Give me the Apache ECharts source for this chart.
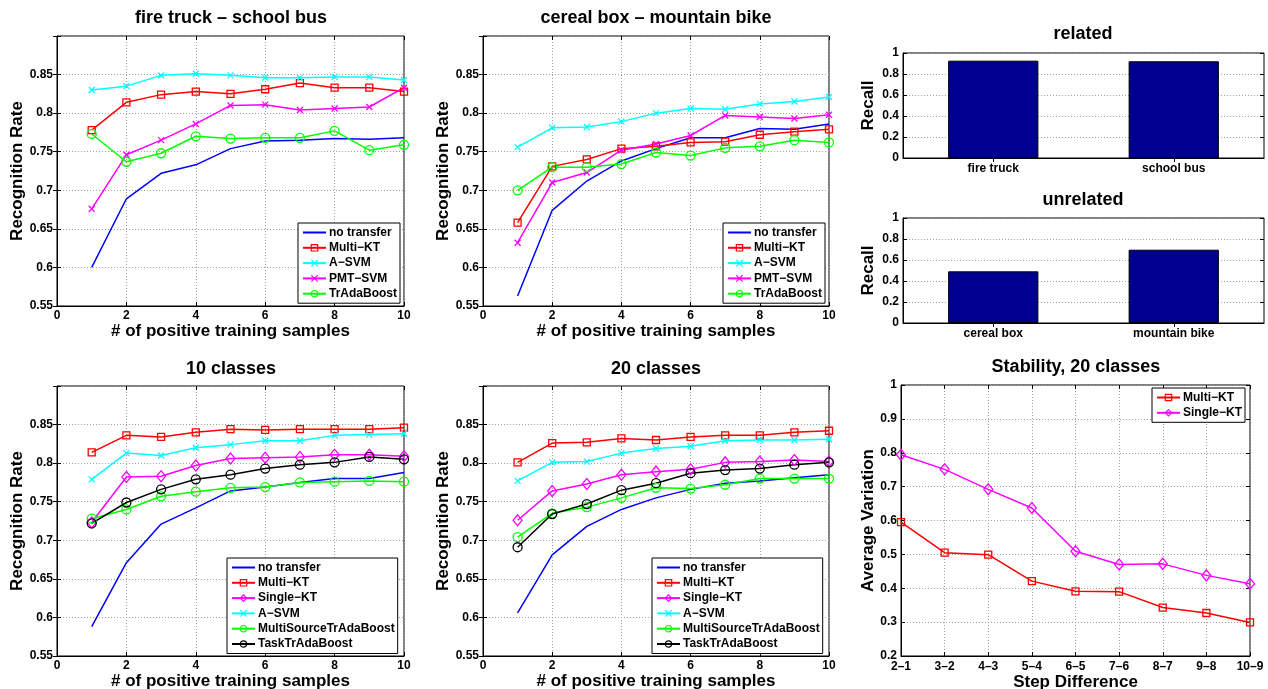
<!DOCTYPE html>
<html>
<head>
<meta charset="utf-8">
<script src="https://cdn.jsdelivr.net/npm/echarts@6/dist/echarts.min.js"></script>
<style>
  html, body { margin: 0; padding: 0; background: #fff; }
  #chart { width: 1268px; height: 689px; }
</style>
</head>
<body>
<div id="chart"></div>
<script>
// ---------- data ----------
const sampleCounts = [1, 2, 3, 4, 5, 6, 7, 8, 9, 10];

// fire truck - school bus
const ftNoTransfer = [0.600, 0.689, 0.722, 0.733, 0.754, 0.764, 0.765, 0.767, 0.766, 0.768];
const ftMultiKT    = [0.778, 0.814, 0.824, 0.828, 0.825, 0.831, 0.839, 0.833, 0.833, 0.828];
const ftASVM       = [0.830, 0.835, 0.849, 0.851, 0.849, 0.846, 0.846, 0.847, 0.847, 0.843];
const ftPMTSVM     = [0.676, 0.746, 0.765, 0.786, 0.810, 0.811, 0.804, 0.806, 0.808, 0.833];
const ftTrAda      = [0.773, 0.737, 0.748, 0.770, 0.767, 0.768, 0.768, 0.777, 0.752, 0.759];

// cereal box - mountain bike
const cbNoTransfer = [0.563, 0.674, 0.712, 0.738, 0.754, 0.768, 0.768, 0.780, 0.779, 0.786];
const cbMultiKT    = [0.658, 0.731, 0.740, 0.754, 0.757, 0.762, 0.763, 0.772, 0.776, 0.779];
const cbASVM       = [0.756, 0.781, 0.782, 0.789, 0.800, 0.806, 0.805, 0.812, 0.815, 0.821];
const cbPMTSVM     = [0.632, 0.710, 0.723, 0.752, 0.760, 0.771, 0.797, 0.795, 0.793, 0.798];
const cbTrAda      = [0.700, 0.730, 0.730, 0.734, 0.749, 0.745, 0.755, 0.757, 0.765, 0.762];

// 10 classes
const c10NoTransfer = [0.588, 0.671, 0.721, 0.742, 0.764, 0.769, 0.775, 0.780, 0.780, 0.788];
const c10MultiKT    = [0.814, 0.836, 0.834, 0.840, 0.844, 0.843, 0.844, 0.844, 0.844, 0.846];
const c10SingleKT   = [0.723, 0.782, 0.783, 0.797, 0.806, 0.807, 0.808, 0.811, 0.811, 0.809];
const c10ASVM       = [0.779, 0.813, 0.810, 0.820, 0.824, 0.829, 0.829, 0.836, 0.837, 0.838];
const c10MultiTrAda = [0.728, 0.740, 0.757, 0.763, 0.768, 0.769, 0.775, 0.776, 0.777, 0.776];
const c10TaskTrAda  = [0.722, 0.749, 0.766, 0.779, 0.785, 0.793, 0.798, 0.801, 0.808, 0.805];

// 20 classes
const c20NoTransfer = [0.606, 0.681, 0.718, 0.740, 0.755, 0.766, 0.774, 0.777, 0.781, 0.785];
const c20MultiKT    = [0.801, 0.826, 0.827, 0.832, 0.830, 0.834, 0.836, 0.836, 0.840, 0.842];
const c20SingleKT   = [0.726, 0.764, 0.773, 0.785, 0.789, 0.792, 0.801, 0.802, 0.804, 0.802];
const c20ASVM       = [0.777, 0.801, 0.802, 0.813, 0.819, 0.822, 0.829, 0.830, 0.830, 0.831];
const c20MultiTrAda = [0.704, 0.735, 0.743, 0.755, 0.768, 0.767, 0.772, 0.780, 0.780, 0.780];
const c20TaskTrAda  = [0.691, 0.734, 0.747, 0.765, 0.774, 0.787, 0.791, 0.793, 0.798, 0.801];

// recall of source selection
const relatedNames    = ['fire truck', 'school bus'];
const relatedRecall   = [0.927, 0.921];
const unrelatedNames  = ['cereal box', 'mountain bike'];
const unrelatedRecall = [0.492, 0.698];

// stability over consecutive steps, 20 classes
const stepLabels   = ['2–1', '3–2', '4–3', '5–4', '6–5', '7–6', '8–7', '9–8', '10–9'];
const stabMultiKT  = [0.595, 0.505, 0.499, 0.421, 0.391, 0.390, 0.343, 0.327, 0.299];
const stabSingleKT = [0.794, 0.751, 0.692, 0.637, 0.509, 0.470, 0.472, 0.438, 0.413];

// ---------- styling ----------
const FONT = 'Liberation Sans, Arial, Helvetica, sans-serif';
const CROSS = 'path://M0,0L10,10M10,0L0,10';
const METHOD_STYLE = {
  'no transfer':           { color: '#0000ff', symbol: 'none',    size: 0 },
  'Multi-KT':              { color: '#ff0000', symbol: 'rect',    size: 7 },
  'A-SVM':                 { color: '#00ffff', symbol: CROSS,     size: 6 },
  'PMT-SVM':               { color: '#ff00ff', symbol: CROSS,     size: 6 },
  'TrAdaBoost':            { color: '#00ff00', symbol: 'circle',  size: 9 },
  'Single-KT':             { color: '#ff00ff', symbol: 'diamond', size: [9, 11] },
  'MultiSourceTrAdaBoost': { color: '#00ff00', symbol: 'circle',  size: 9 },
  'TaskTrAdaBoost':        { color: '#000000', symbol: 'circle',  size: 9 }
};
const LEGEND_LABEL = { 'A-SVM': 'A−SVM', 'PMT-SVM': 'PMT−SVM', 'Multi-KT': 'Multi−KT', 'Single-KT': 'Single−KT' };

function lineSeries(name, values, axisIdx, xs) {
  const st = METHOD_STYLE[name];
  return {
    type: 'line',
    name: name,
    xAxisIndex: axisIdx,
    yAxisIndex: axisIdx,
    data: xs ? values.map((v, i) => [xs[i], v]) : values.slice(),
    symbol: st.symbol,
    symbolSize: st.size,
    showSymbol: st.symbol !== 'none',
    lineStyle: { color: st.color, width: 1.5 },
    itemStyle: {
      color: 'rgba(0,0,0,0)',
      borderColor: st.symbol === 'none' ? 'rgba(0,0,0,0)' : st.color,
      borderWidth: st.symbol === 'none' ? 0 : 1.3
    },
    emphasis: { disabled: true },
    animation: false
  };
}

const gridBase = { show: true, borderColor: '#000', borderWidth: 1, backgroundColor: '#fff', containLabel: false, outerBoundsMode: 'none' };
const labelText = { color: '#000', fontWeight: 'bold', fontSize: 12, fontFamily: FONT };
const nameText = { color: '#000', fontWeight: 'bold', fontSize: 17, fontFamily: FONT };
const axisLineBlack = { show: true, onZero: false, lineStyle: { color: '#000', width: 1 } };
const tickIn = { show: true, inside: true, length: 4, lineStyle: { color: '#000', width: 1 } };
const dotted = { show: true, lineStyle: { color: '#a0a0a0', width: 1, type: [1, 2] } };

const grids = [
  { left: 57, top: 36, width: 347, height: 270 },      // fire truck - school bus
  { left: 483, top: 36, width: 346, height: 270 },     // cereal box - mountain bike
  { left: 57, top: 386, width: 347, height: 270 },     // 10 classes
  { left: 483, top: 386, width: 346, height: 270 },    // 20 classes
  { left: 903, top: 53, width: 361, height: 105 },     // related
  { left: 903, top: 218, width: 361, height: 105 },    // unrelated
  { left: 901, top: 385, width: 349, height: 271 }     // stability
].map(g => Object.assign({}, gridBase, g));

function sampleXAxis(idx) {
  return {
    type: 'value', gridIndex: idx, min: 0, max: 10, interval: 2,
    axisLine: axisLineBlack, axisTick: tickIn,
    axisLabel: Object.assign({ margin: 4 }, labelText),
    splitLine: dotted,
    name: '# of positive training samples', nameLocation: 'middle', nameGap: 16, nameTextStyle: nameText
  };
}
function rateYAxis(idx) {
  return {
    type: 'value', gridIndex: idx, min: 0.55, max: 0.9, interval: 0.05,
    axisLine: axisLineBlack, axisTick: tickIn,
    axisLabel: Object.assign({ margin: 4, formatter: v => (v > 0.875 ? '' : String(+v.toFixed(2))) }, labelText),
    splitLine: dotted,
    name: 'Recognition Rate', nameLocation: 'middle', nameGap: 31, nameTextStyle: nameText
  };
}
function barXAxis(idx, cats) {
  return {
    type: 'category', gridIndex: idx, data: cats, boundaryGap: true,
    axisLine: axisLineBlack, axisTick: Object.assign({ alignWithLabel: true }, tickIn),
    axisLabel: Object.assign({ margin: 5 }, labelText),
    splitLine: { show: false }
  };
}
function recallYAxis(idx) {
  return {
    type: 'value', gridIndex: idx, min: 0, max: 1, interval: 0.2,
    axisLine: axisLineBlack, axisTick: tickIn,
    axisLabel: Object.assign({ margin: 4, formatter: v => String(+v.toFixed(1)) }, labelText),
    splitLine: dotted,
    name: 'Recall', nameLocation: 'middle', nameGap: 26, nameTextStyle: nameText
  };
}

// mirror axes on the top / right edges carry the inward ticks of the box
function mirrorOf(axis, position) {
  const m = {
    type: axis.type, gridIndex: axis.gridIndex, position: position,
    min: axis.min, max: axis.max, interval: axis.interval,
    data: axis.data, boundaryGap: axis.boundaryGap,
    axisLine: { show: false }, axisLabel: { show: false }, splitLine: { show: false },
    axisTick: axis.axisTick
  };
  return m;
}

const xAxes = [
  sampleXAxis(0), sampleXAxis(1), sampleXAxis(2), sampleXAxis(3),
  barXAxis(4, relatedNames), barXAxis(5, unrelatedNames),
  {
    type: 'category', gridIndex: 6, data: stepLabels, boundaryGap: false,
    axisLine: axisLineBlack, axisTick: tickIn,
    axisLabel: Object.assign({ margin: 5, interval: 0 }, labelText),
    splitLine: dotted,
    name: 'Step Difference', nameLocation: 'middle', nameGap: 15, nameTextStyle: nameText
  }
];
const yAxes = [
  rateYAxis(0), rateYAxis(1), rateYAxis(2), rateYAxis(3),
  recallYAxis(4), recallYAxis(5),
  {
    type: 'value', gridIndex: 6, min: 0.2, max: 1, interval: 0.1,
    axisLine: axisLineBlack, axisTick: tickIn,
    axisLabel: Object.assign({ margin: 4, formatter: v => String(+v.toFixed(1)) }, labelText),
    splitLine: dotted,
    name: 'Average Variation', nameLocation: 'middle', nameGap: 24, nameTextStyle: nameText
  }
];
const allXAxes = xAxes.concat(xAxes.map(a => mirrorOf(a, 'top')));
const allYAxes = yAxes.concat(yAxes.map(a => mirrorOf(a, 'right')));

const titleText = { color: '#000', fontWeight: 'bold', fontSize: 18, fontFamily: FONT };
function panelTitle(text, cx, cy) {
  return { text: text, left: cx, top: cy, textAlign: 'center', textVerticalAlign: 'middle', padding: 0, textStyle: titleText };
}
const titles = [
  panelTitle('fire truck – school bus', 231, 18),
  panelTitle('cereal box – mountain bike', 656, 18),
  panelTitle('10 classes', 231, 369),
  panelTitle('20 classes', 656, 369),
  panelTitle('related', 1083, 34),
  panelTitle('unrelated', 1083, 200),
  panelTitle('Stability, 20 classes', 1076, 367)
];

function panelLegend(names, left, top) {
  return {
    orient: 'vertical', left: left, top: top,
    data: names,
    formatter: n => LEGEND_LABEL[n] || n,
    itemWidth: 23, itemHeight: 8, itemGap: 0.3,
    padding: [2, 3, 2, 4],
    borderColor: '#000', borderWidth: 1, backgroundColor: '#fff',
    selectedMode: false,
    itemStyle: { color: 'rgba(0,0,0,0)', borderWidth: 1.2 },
    textStyle: { color: '#000', fontWeight: 'bold', fontSize: 12, lineHeight: 15, fontFamily: FONT, padding: [0, 0, 0, -2] }
  };
}
const pairMethods = ['no transfer', 'Multi-KT', 'A-SVM', 'PMT-SVM', 'TrAdaBoost'];
const classMethods = ['no transfer', 'Multi-KT', 'Single-KT', 'A-SVM', 'MultiSourceTrAdaBoost', 'TaskTrAdaBoost'];
const legends = [
  panelLegend(pairMethods, 298, 223),
  panelLegend(pairMethods, 723, 223),
  panelLegend(classMethods, 227, 558),
  panelLegend(classMethods, 652, 558),
  panelLegend(['Multi-KT', 'Single-KT'], 1152, 388)
];

const barStyle = { color: '#00008f', borderColor: '#000', borderWidth: 1 };

const series = [
  lineSeries('no transfer', ftNoTransfer, 0, sampleCounts),
  lineSeries('Multi-KT', ftMultiKT, 0, sampleCounts),
  lineSeries('A-SVM', ftASVM, 0, sampleCounts),
  lineSeries('PMT-SVM', ftPMTSVM, 0, sampleCounts),
  lineSeries('TrAdaBoost', ftTrAda, 0, sampleCounts),

  lineSeries('no transfer', cbNoTransfer, 1, sampleCounts),
  lineSeries('Multi-KT', cbMultiKT, 1, sampleCounts),
  lineSeries('A-SVM', cbASVM, 1, sampleCounts),
  lineSeries('PMT-SVM', cbPMTSVM, 1, sampleCounts),
  lineSeries('TrAdaBoost', cbTrAda, 1, sampleCounts),

  lineSeries('no transfer', c10NoTransfer, 2, sampleCounts),
  lineSeries('Multi-KT', c10MultiKT, 2, sampleCounts),
  lineSeries('Single-KT', c10SingleKT, 2, sampleCounts),
  lineSeries('A-SVM', c10ASVM, 2, sampleCounts),
  lineSeries('MultiSourceTrAdaBoost', c10MultiTrAda, 2, sampleCounts),
  lineSeries('TaskTrAdaBoost', c10TaskTrAda, 2, sampleCounts),

  lineSeries('no transfer', c20NoTransfer, 3, sampleCounts),
  lineSeries('Multi-KT', c20MultiKT, 3, sampleCounts),
  lineSeries('Single-KT', c20SingleKT, 3, sampleCounts),
  lineSeries('A-SVM', c20ASVM, 3, sampleCounts),
  lineSeries('MultiSourceTrAdaBoost', c20MultiTrAda, 3, sampleCounts),
  lineSeries('TaskTrAdaBoost', c20TaskTrAda, 3, sampleCounts),

  {
    type: 'bar', name: 'related recall', xAxisIndex: 4, yAxisIndex: 4, data: relatedRecall,
    barWidth: '50%', itemStyle: barStyle, emphasis: { disabled: true }, animation: false
  },
  {
    type: 'bar', name: 'unrelated recall', xAxisIndex: 5, yAxisIndex: 5, data: unrelatedRecall,
    barWidth: '50%', itemStyle: barStyle, emphasis: { disabled: true }, animation: false
  },

  lineSeries('Multi-KT', stabMultiKT, 6),
  lineSeries('Single-KT', stabSingleKT, 6)
];

const chart = echarts.init(document.getElementById('chart'), null, { renderer: 'canvas' });
chart.setOption({
  backgroundColor: '#fff',
  animation: false,
  textStyle: { fontFamily: FONT },
  title: titles,
  legend: legends,
  grid: grids,
  xAxis: allXAxes,
  yAxis: allYAxes,
  series: series
});
</script>
</body>
</html>
